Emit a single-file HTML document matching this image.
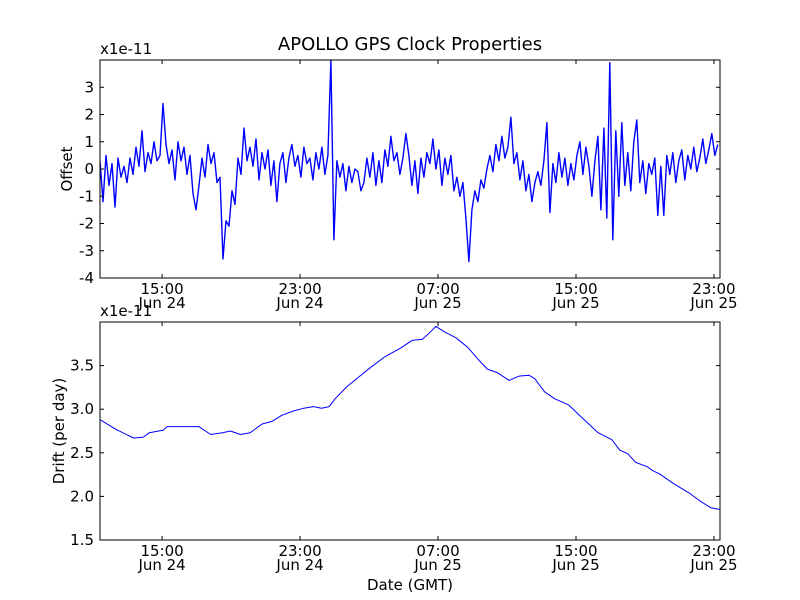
<!DOCTYPE html>
<html><head><meta charset="utf-8"><style>
body{margin:0;background:#fff}
svg{display:block;font-family:"DejaVu Sans","Liberation Sans",sans-serif}
</style></head><body>
<svg id="c" width="800" height="600"></svg>
<script>
const xTickHours=[15,23,31,39,47];
const xTickTimes=["15:00","23:00","07:00","15:00","23:00"];
const xTickDates=["Jun 24","Jun 24","Jun 25","Jun 25","Jun 25"];
const offTicks=[3,2,1,0,-1,-2,-3,-4];
const driftTicks=[1.5,2.0,2.5,3.0,3.5];
const driftTickLabels=["1.5","2.0","2.5","3.0","3.5"];
const offStart=11.4;
const offStep=0.1739;
const offsetVals=[0.3,-1.2,0.5,-0.6,0.2,-1.4,0.4,-0.3,0.1,-0.5,
0.4,-0.2,0.8,0.1,1.4,-0.1,0.6,0.2,1.0,0.3,
0.5,2.4,0.9,0.2,0.7,-0.4,1.0,0.3,0.8,-0.2,
0.5,-0.9,-1.5,-0.6,0.4,-0.3,0.9,0.2,0.6,-0.5,
-0.3,-3.3,-1.9,-2.1,-0.8,-1.3,0.4,-0.2,1.5,0.3,
0.8,0.1,1.1,-0.4,0.6,0.0,0.7,-0.6,0.3,-1.2,
0.2,0.6,-0.5,0.4,0.9,0.1,0.5,-0.3,0.8,0.2,
0.4,-0.4,0.6,0.0,0.8,-0.2,0.5,4.0,-2.6,0.3,
-0.3,0.2,-0.8,0.1,-0.5,0.0,-0.1,-0.8,-0.5,0.4,
-0.3,0.6,-0.6,0.3,-0.5,0.7,0.1,1.2,0.3,0.6,
-0.2,0.4,1.3,0.5,-0.6,0.3,-0.9,0.4,-0.3,0.6,
0.2,1.1,0.0,0.7,-0.6,0.4,-0.2,0.5,-0.8,-0.3,
-1.0,-0.5,-1.8,-3.4,-1.5,-0.8,-1.2,-0.4,-0.7,0.0,
0.5,-0.1,0.9,0.3,1.2,0.4,0.8,1.9,0.2,0.6,
-0.4,0.3,-0.8,-0.2,-1.2,-0.5,-0.1,-0.6,0.3,1.7,
-1.6,0.2,-0.5,0.6,-0.3,0.4,-0.6,0.2,-0.4,0.5,
1.0,-0.2,0.8,0.1,-1.0,0.3,1.2,-1.5,1.5,-1.8,
3.9,-2.6,1.4,-1.0,1.7,-0.6,0.6,-0.8,1.0,1.8,
-0.5,0.3,-0.9,0.2,-0.2,0.4,-1.7,0.1,-1.7,0.5,
-0.2,0.6,-0.5,0.3,0.7,-0.4,0.5,0.0,0.8,-0.1,
0.4,1.1,0.2,0.7,1.3,0.5,0.9];
const driftHours=[11.40,12.32,13.35,13.92,14.26,15.07,15.30,16.21,17.13,17.82,18.51,18.96,19.54,20.11,20.80,21.37,21.94,22.63,23.20,23.78,24.24,24.69,25.04,25.72,26.41,27.10,27.90,28.82,29.51,30.08,30.42,30.88,31.34,32.03,32.72,33.29,33.86,34.43,35.12,35.70,36.27,36.61,37.18,37.76,38.56,39.36,40.28,41.08,41.54,42.00,42.46,43.14,43.49,43.83,44.63,45.55,46.24,46.81,47.34];
const driftVals=[2.88,2.77,2.67,2.68,2.73,2.76,2.80,2.80,2.80,2.71,2.73,2.75,2.71,2.73,2.83,2.86,2.93,2.98,3.01,3.03,3.01,3.03,3.12,3.26,3.37,3.48,3.60,3.70,3.79,3.80,3.86,3.95,3.89,3.82,3.71,3.58,3.46,3.42,3.33,3.38,3.39,3.35,3.20,3.12,3.05,2.90,2.73,2.65,2.53,2.49,2.39,2.34,2.29,2.26,2.15,2.04,1.94,1.87,1.85];

const NS="http://www.w3.org/2000/svg";
const svg=document.getElementById('c');
function el(tag,attrs,parent){const e=document.createElementNS(NS,tag);for(const k in attrs)e.setAttribute(k,attrs[k]);(parent||svg).appendChild(e);return e;}
const X0=100,X1=720,T0=11.4,T1=47.35;
const xs=t=>X0+(t-T0)/(T1-T0)*(X1-X0);

function panel(name,top,ymin,ymax,yt,ytl,ylabel,ylx,xs_,ys_,lw){
  const bot=top+218;
  const ys=v=>bot-(v-ymin)/(ymax-ymin)*218;
  const g=el('g',{});
  
  
  const cp=el('clipPath',{id:name+'clip'},g);
  el('rect',{x:X0,y:top,width:X1-X0,height:218},cp);
  let d='';
  xs_.forEach((t,i)=>{d+=(i?'L':'M')+xs(t).toFixed(1)+' '+ys(ys_[i]).toFixed(1);});
  const p=el('path',{d:d,fill:'none',stroke:'#0000ff','stroke-width':lw,'clip-path':'url(#'+name+'clip)','stroke-linejoin':'round'},g);
  
  
  const fr=el('rect',{x:X0,y:top,width:X1-X0,height:218,fill:'none',stroke:'#000','stroke-width':1},g);
  
  
  yt.forEach((v,i)=>{
    const y=ys(v);
    el('line',{x1:X0,x2:X0+4,y1:y,y2:y,stroke:'#000'},g);
    el('line',{x1:X1,x2:X1-4,y1:y,y2:y,stroke:'#000'},g);
    const tx=el('text',{x:X0-6,y:y+5,'text-anchor':'end','font-size':15},g);
    tx.textContent=ytl[i];
    
    
  });
  xTickHours.forEach((h,i)=>{
    const x=xs(h);
    el('line',{x1:x,x2:x,y1:bot,y2:bot-4,stroke:'#000'},g);
    el('line',{x1:x,x2:x,y1:top,y2:top+4,stroke:'#000'},g);
    const a=el('text',{x:x,y:bot+16,'text-anchor':'middle','font-size':15},g);
    a.textContent=xTickTimes[i];
    
    
    const b=el('text',{x:x,y:bot+30,'text-anchor':'middle','font-size':15},g);
    b.textContent=xTickDates[i];
    
    
  });
  const m=el('text',{x:X0,y:top-6,'font-size':15},g);
  m.textContent='x1e-11';
  
  
  const yl=el('text',{x:0,y:0,'text-anchor':'middle','font-size':15,transform:'translate('+ylx+','+(top+109)+') rotate(-90)'},g);
  yl.textContent=ylabel;
  
  
}
const offHours=offsetVals.map((v,i)=>offStart+i*offStep);
panel('offset',60,-4,4,offTicks,offTicks.map(String),'Offset',72,offHours,offsetVals,1.4);
panel('drift',322,1.5,4.0,driftTicks,driftTickLabels,'Drift (per day)',64,driftHours,driftVals,1);
const ttl=el('text',{x:410,y:50,'text-anchor':'middle','font-size':18});
ttl.textContent='APOLLO GPS Clock Properties';


const xl=el('text',{x:410,y:590,'text-anchor':'middle','font-size':15});
xl.textContent='Date (GMT)';


</script>
</body></html>
